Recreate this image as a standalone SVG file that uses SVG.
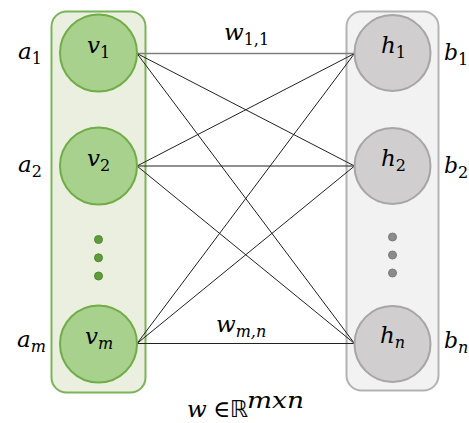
<svg xmlns="http://www.w3.org/2000/svg" width="469" height="423" viewBox="0 0 469 423">
<style>
.m{font-family:"DejaVu Serif","Liberation Serif",serif;font-style:italic;font-size:23px;fill:#000}
.s{font-size:16px}
.n{font-style:normal}
.b{font-size:22px}
.vc{fill:#a9d18e;stroke:#70ad47;stroke-width:2}
.hc{fill:#d0cece;stroke:#a6a6a6;stroke-width:2}
.vd{fill:#5e9c3b;stroke:#4f8a30;stroke-width:1}
.hd{fill:#8c8c8c;stroke:#7a7a7a;stroke-width:1}
.e{stroke:#222;stroke-width:1;fill:none}
</style>
<rect x="0" y="0" width="469" height="423" fill="#fff"/>
<g id="visible-layer">
<rect x="51.5" y="11.5" width="94" height="381" rx="15" fill="#ebefdf" stroke="#7ab35a" stroke-width="2"/>
<circle class="vd" cx="98.5" cy="239.5" r="4"/>
<circle class="vd" cx="98.5" cy="257.8" r="4"/>
<circle class="vd" cx="98.5" cy="276" r="4"/>
</g>
<g id="hidden-layer">
<rect x="346.5" y="11.5" width="92" height="379" rx="15" fill="#f2f2f2" stroke="#b3b3b3" stroke-width="2"/>
<circle class="hd" cx="392.5" cy="237" r="4"/>
<circle class="hd" cx="392.5" cy="255" r="4"/>
<circle class="hd" cx="392.5" cy="273" r="4"/>
</g>
<g id="connectors">
<line x1="137" y1="53.5" x2="354.5" y2="53.5" stroke="#7f7f7f" stroke-width="1.6"/>
<line class="e" x1="137" y1="53.5" x2="354.5" y2="166"/>
<line class="e" x1="137" y1="53.5" x2="354.5" y2="343.5"/>
<line class="e" x1="137" y1="166" x2="354.5" y2="53.5"/>
<line class="e" x1="137" y1="166" x2="354.5" y2="166"/>
<line class="e" x1="137" y1="166" x2="354.5" y2="343.5"/>
<line class="e" x1="137" y1="343.5" x2="354.5" y2="53.5"/>
<line class="e" x1="137" y1="343.5" x2="354.5" y2="166"/>
<line class="e" x1="137" y1="343.5" x2="354.5" y2="343.5" stroke="#111" stroke-width="1.2"/>
</g>
<g id="v1"><circle class="vc" cx="98.5" cy="53" r="38.5"/><text class="m" x="87" y="53">v<tspan class="s n" dy="5">1</tspan></text></g>
<g id="v2"><circle class="vc" cx="98.5" cy="166" r="38.5"/><text class="m" x="87" y="166">v<tspan class="s n" dy="5">2</tspan></text></g>
<g id="vm"><circle class="vc" cx="98.5" cy="344" r="38.5"/><text class="m" x="85" y="344">v<tspan class="s" dy="5">m</tspan></text></g>
<g id="h1"><circle class="hc" cx="392.5" cy="53" r="38"/><text class="m" x="381" y="53">h<tspan class="s n" dy="5">1</tspan></text></g>
<g id="h2"><circle class="hc" cx="392.5" cy="166" r="38"/><text class="m" x="381" y="166">h<tspan class="s n" dy="5">2</tspan></text></g>
<g id="hn"><circle class="hc" cx="392.5" cy="344" r="38"/><text class="m" x="380" y="343">h<tspan class="s" dy="5">n</tspan></text></g>
<g id="labels">
<text class="m" x="18" y="59">a<tspan class="s n" dy="5">1</tspan></text>
<text class="m" x="18" y="172">a<tspan class="s n" dy="5">2</tspan></text>
<text class="m" x="17" y="347">a<tspan class="s" dy="5">m</tspan></text>
<text class="m b" x="444" y="60">b<tspan class="s n" dy="5" font-size="15">1</tspan></text>
<text class="m b" x="444" y="173">b<tspan class="s n" dy="5" font-size="15">2</tspan></text>
<text class="m b" x="444" y="348">b<tspan class="s" dy="5" font-size="15">n</tspan></text>
<text class="m" x="224" y="40">w<tspan class="s n" dy="5">1,1</tspan></text>
<text class="m" x="216" y="332">w<tspan class="s" dy="5">m,n</tspan></text>
<text class="m" x="187" y="417">w</text>
<text class="m n" x="213" y="417" font-size="20">∈</text>
<text class="m n" x="230" y="417" font-size="21" style="font-family:'DejaVu Sans',sans-serif">ℝ</text>
<text class="m" x="247" y="408" font-size="18" textLength="57" lengthAdjust="spacingAndGlyphs">mxn</text>
</g>
</svg>
